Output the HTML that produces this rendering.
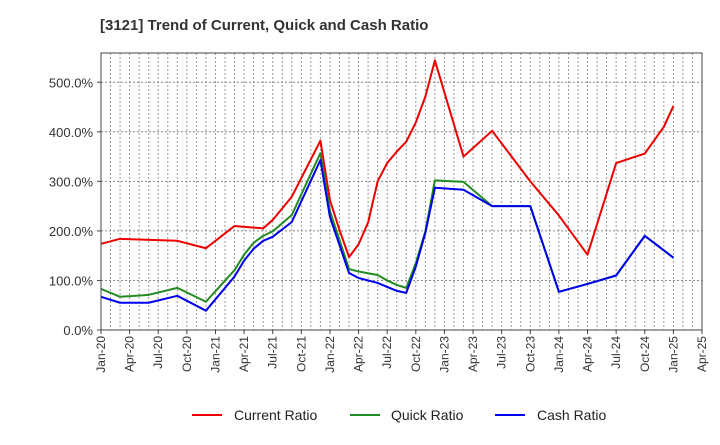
<!DOCTYPE html>
<html><head><meta charset="utf-8"><style>
body{margin:0;background:#fff;font-family:"Liberation Sans",sans-serif;}
</style></head><body>
<svg width="720" height="440" xmlns="http://www.w3.org/2000/svg">
<text x="100" y="30" font-size="15" font-weight="bold" fill="#333">[3121]  Trend of Current, Quick and Cash Ratio</text>
<g id="grid"></g><g id="axes"></g><g id="series"></g>
<rect x="101" y="53" width="601" height="277" fill="none" stroke="#444" stroke-width="1"/>
<g>
<line x1="192" y1="415" x2="222" y2="415" stroke="#e00" stroke-width="2"/>
<text x="234" y="420" font-size="14" fill="#222">Current Ratio</text>
<line x1="350" y1="415" x2="380" y2="415" stroke="#228b22" stroke-width="2"/>
<text x="391" y="420" font-size="14" fill="#222">Quick Ratio</text>
<line x1="495" y1="415" x2="525" y2="415" stroke="#00e" stroke-width="2"/>
<text x="537" y="420" font-size="14" fill="#222">Cash Ratio</text>
</g>
</svg>
<script>
const xTickLabels=["Jan-20","Apr-20","Jul-20","Oct-20","Jan-21","Apr-21","Jul-21","Oct-21","Jan-22","Apr-22","Jul-22","Oct-22","Jan-23","Apr-23","Jul-23","Oct-23","Jan-24","Apr-24","Jul-24","Oct-24","Jan-25","Apr-25"];
const yTicks=[0,100,200,300,400,500];
const currentMonths=[0,2,8,11,14,17,18,20,23,24,25,26,27,28,29,30,31,32,33,34,35,38,41,45,48,51,54,57,59,60];
const currentVals=[174,184,180,165,210,205,222,269,382,262,202,147,173,217,300,337,360,380,419,471,544,350,402,300,231,152,337,356,410,452];
const quickMonths=[0,2,5,8,11,14,15,16,17,18,20,23,24,26,27,29,30,31,32,33,34,35,38,41,45,48,51,54,57,60];
const quickVals=[83,67,71,85,57,121,152,176,190,199,232,357,240,123,118,111,100,91,85,135,199,302,299,250,250,77,93,110,190,146];
const cashMonths=[0,2,5,8,11,14,15,16,17,18,20,23,24,26,27,29,30,31,32,33,34,35,38,41,45,48,51,54,57,60];
const cashVals=[67,55,55,69,39,108,140,164,180,188,218,343,228,115,105,95,87,79,75,128,196,287,283,250,250,77,93,110,190,146];
const NS="http://www.w3.org/2000/svg";
const X=m=>101+m*(601/63), Y=v=>330-v*0.4955;
function mk(t,a,p){const e=document.createElementNS(NS,t);for(const k in a)e.setAttribute(k,a[k]);p.appendChild(e);return e;}
const grid=document.getElementById('grid'),axes=document.getElementById('axes'),ser=document.getElementById('series');
for(let m=1;m<63;m++){const l=mk('line',{x1:X(m),x2:X(m),y1:53,y2:330,stroke:'#999','stroke-dasharray':'2,2','stroke-width':1},grid);
}
yTicks.forEach(v=>{if(v>0){const l=mk('line',{x1:101,x2:702,y1:Y(v),y2:Y(v),stroke:'#888','stroke-dasharray':'2,2','stroke-width':1},grid);
}
const t=mk('text',{x:93,y:Y(v)+5,'font-size':13,'text-anchor':'end',fill:'#333'},axes);t.textContent=v.toFixed(1)+'%';

mk('line',{x1:97,x2:101,y1:Y(v),y2:Y(v),stroke:'#444'},axes);});
xTickLabels.forEach((s,i)=>{const x=X(i*3);mk('line',{x1:x,x2:x,y1:330,y2:334,stroke:'#444'},axes);
const t=mk('text',{x:x+4,y:336,'font-size':12,'text-anchor':'end',fill:'#333',transform:`rotate(-90 ${x+4} 336)`},axes);t.textContent=s;
});
function line(ms,vs,c,n){const p=mk('polyline',{points:ms.map((m,i)=>X(m)+','+Y(vs[i])).join(' '),fill:'none',stroke:c,'stroke-width':2,'stroke-linejoin':'round'},ser);
}
line(currentMonths,currentVals,'#e00','current-ratio-line');
line(quickMonths,quickVals,'#228b22','quick-ratio-line');
line(cashMonths,cashVals,'#00e','cash-ratio-line');
</script>
</body></html>
